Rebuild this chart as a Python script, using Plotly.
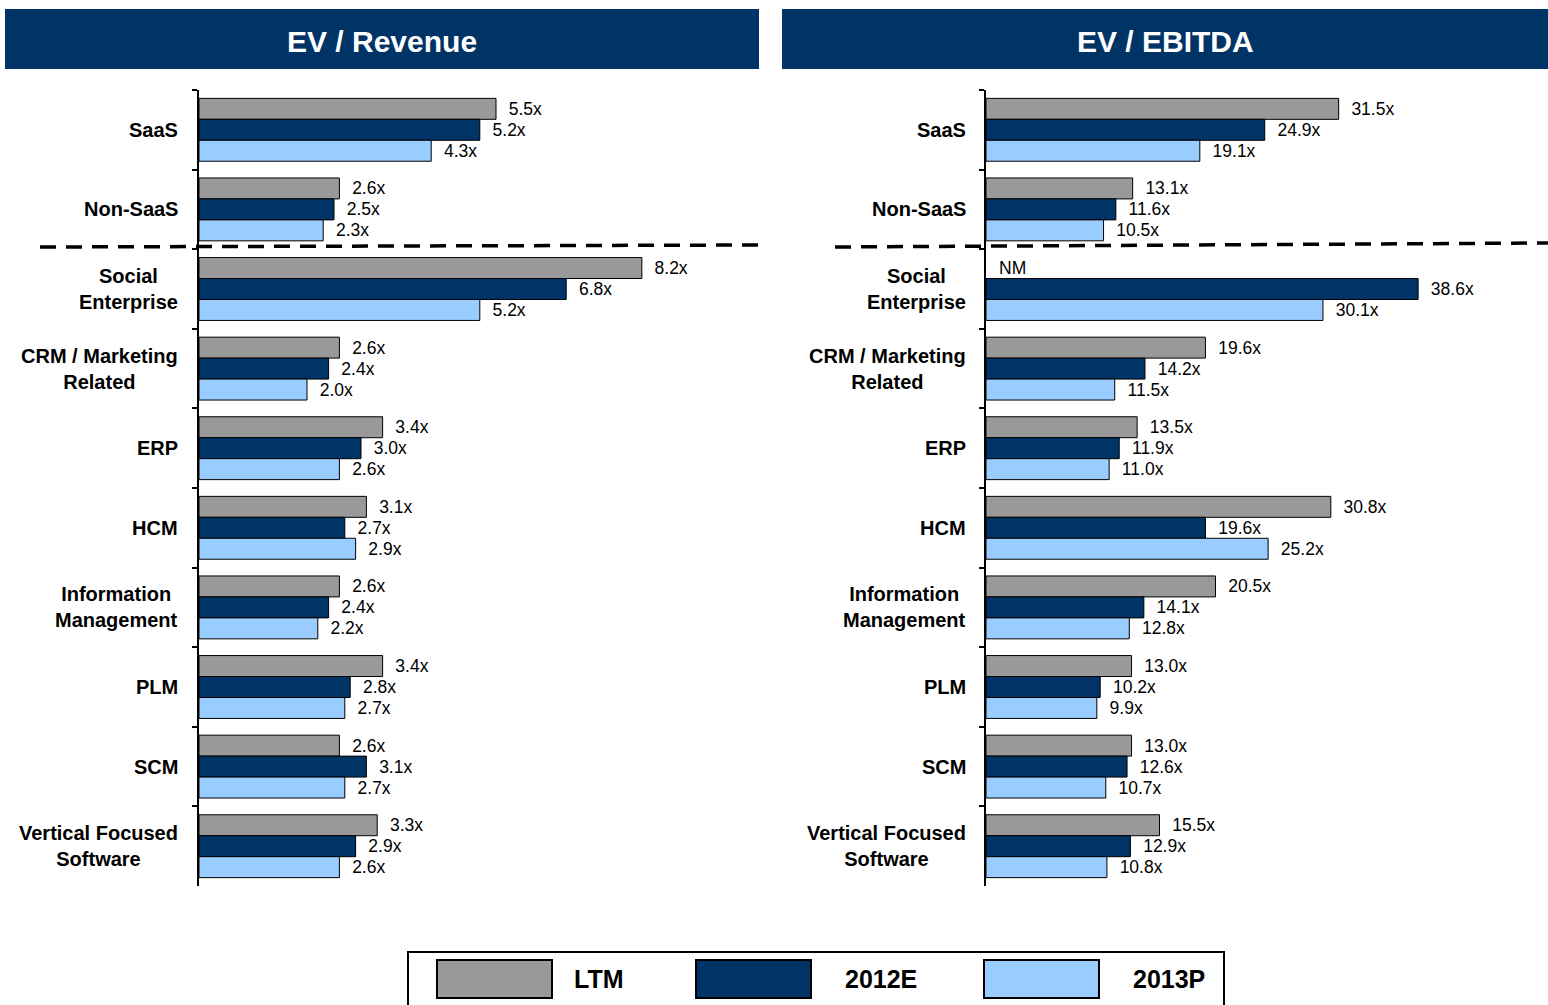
import plotly.graph_objects as go

W, H = 1548, 1005

categories = ["SaaS", "Non-SaaS", "Social Enterprise", "CRM / Marketing Related", "ERP",
              "HCM", "Information Management", "PLM", "SCM", "Vertical Focused Software"]
category_labels = ["SaaS", "Non-SaaS", "Social<br>Enterprise", "CRM / Marketing<br>Related", "ERP",
                   "HCM", "Information<br>Management", "PLM", "SCM", "Vertical Focused<br>Software"]

series_names = ["LTM", "2012E", "2013P"]
series_colors = ["#999999", "#003366", "#99CCFF"]

rev_ltm = [5.5, 2.6, 8.2, 2.6, 3.4, 3.1, 2.6, 3.4, 2.6, 3.3]
rev_2012 = [5.2, 2.5, 6.8, 2.4, 3.0, 2.7, 2.4, 2.8, 3.1, 2.9]
rev_2013 = [4.3, 2.3, 5.2, 2.0, 2.6, 2.9, 2.2, 2.7, 2.7, 2.6]

ebitda_ltm = [31.5, 13.1, None, 19.6, 13.5, 30.8, 20.5, 13.0, 13.0, 15.5]
ebitda_2012 = [24.9, 11.6, 38.6, 14.2, 11.9, 19.6, 14.1, 10.2, 12.6, 12.9]
ebitda_2013 = [19.1, 10.5, 30.1, 11.5, 11.0, 25.2, 12.8, 9.9, 10.7, 10.8]

panel_titles = ["EV / Revenue", "EV / EBITDA"]
NM_TEXT = "NM"

FONT = "Arial, 'Liberation Sans', sans-serif"


def px(x):
    return x / W


def py(y):
    return 1 - y / H


fig = go.Figure()

panels = [
    ([rev_ltm, rev_2012, rev_2013], "x", "y"),
    ([ebitda_ltm, ebitda_2012, ebitda_2013], "x2", "y2"),
]

for vals, xa, ya in panels:
    for name, color, v in zip(series_names, series_colors, vals):
        fig.add_trace(go.Bar(
            y=categories, x=v, orientation="h", name=name,
            marker=dict(color=color, line=dict(color="black", width=1)),
            text=["\u00a0\u00a0" + f"{a:.1f}x" if a is not None else "" for a in v],
            textposition="outside", constraintext="none", cliponaxis=False,
            textfont=dict(family=FONT, size=17.5, color="black"),
            xaxis=xa, yaxis=ya, showlegend=False, hoverinfo="skip",
        ))

y_dom = [py(886), py(90)]
axis_common = dict(showgrid=False, zeroline=False, showticklabels=False)
yaxis_common = dict(type="category", autorange="reversed", showline=True, linecolor="black",
                    linewidth=1.5, ticks="outside", ticklen=5, tickcolor="black", tickwidth=1.5,
                    tickson="boundaries", showticklabels=False, showgrid=False, domain=y_dom)

fig.update_layout(
    width=W, height=H, margin=dict(l=0, r=0, t=0, b=0),
    paper_bgcolor="white", plot_bgcolor="white",
    barmode="group", bargap=0.21, bargroupgap=0,
    xaxis=dict(domain=[px(199), px(759)], range=[0, 10.37], visible=False, **axis_common),
    yaxis=dict(anchor="x", **yaxis_common),
    xaxis2=dict(domain=[px(986), 1.0], range=[0, 50.2], visible=False, anchor="y2", **axis_common),
    yaxis2=dict(anchor="x2", **yaxis_common),
    font=dict(family=FONT, color="black"),
)

shapes = []
annotations = []

# Header bars
headers = [(5, 759), (782, 1548)]
for (x0, x1), title in zip(headers, panel_titles):
    shapes.append(dict(type="rect", xref="paper", yref="paper", x0=px(x0), x1=px(x1),
                       y0=py(69), y1=py(9), fillcolor="#003366", line=dict(width=0), layer="below"))
    annotations.append(dict(text=f"<b>{title}</b>", xref="paper", yref="paper",
                            x=px((x0 + x1) / 2), y=py(41), xanchor="center", yanchor="middle",
                            showarrow=False, font=dict(family=FONT, size=30, color="white")))

# Category labels
for ya, xr in [("y", 180), ("y2", 968)]:
    for cat, lab in zip(categories, category_labels):
        annotations.append(dict(text=f"<b>{lab}</b>", xref="paper", yref=ya, x=px(xr), y=cat,
                                xanchor="right", yanchor="middle", align="center", showarrow=False,
                                font=dict(family=FONT, size=20, color="black")))

# NM label for missing LTM EBITDA value
for cat, v in zip(categories, ebitda_ltm):
    if v is None:
        annotations.append(dict(text=NM_TEXT, xref="x2", yref="y2", x=0, y=cat, xanchor="left",
                                yanchor="middle", xshift=11, yshift=21, showarrow=False,
                                font=dict(family=FONT, size=17.5, color="black")))

# Dashed separators
shapes.append(dict(type="line", xref="paper", yref="paper", x0=px(40), x1=px(759),
                   y0=py(247), y1=py(245), line=dict(color="black", width=3.5, dash="16px,10px")))
shapes.append(dict(type="line", xref="paper", yref="paper", x0=px(835), x1=px(1548),
                   y0=py(247), y1=py(243), line=dict(color="black", width=3.5, dash="16px,10px")))

# Legend box
shapes.append(dict(type="rect", xref="paper", yref="paper", x0=px(408), x1=px(1224),
                   y0=py(1012), y1=py(952), line=dict(color="black", width=2), fillcolor="rgba(0,0,0,0)"))
swatch_x = [437, 696, 984]
text_x = [572, 843, 1131]
for name, color, sx, tx in zip(series_names, series_colors, swatch_x, text_x):
    shapes.append(dict(type="rect", xref="paper", yref="paper", x0=px(sx), x1=px(sx + 115),
                       y0=py(998), y1=py(960), fillcolor=color, line=dict(color="black", width=2)))
    annotations.append(dict(text=f"<b>{name}</b>", xref="paper", yref="paper", x=px(tx), y=py(979),
                            xanchor="left", yanchor="middle", showarrow=False,
                            font=dict(family=FONT, size=25, color="black")))

fig.update_layout(shapes=shapes, annotations=annotations)

fig.write_html("out.html", config={"displayModeBar": False},
               post_script="document.body.style.margin='0';")
